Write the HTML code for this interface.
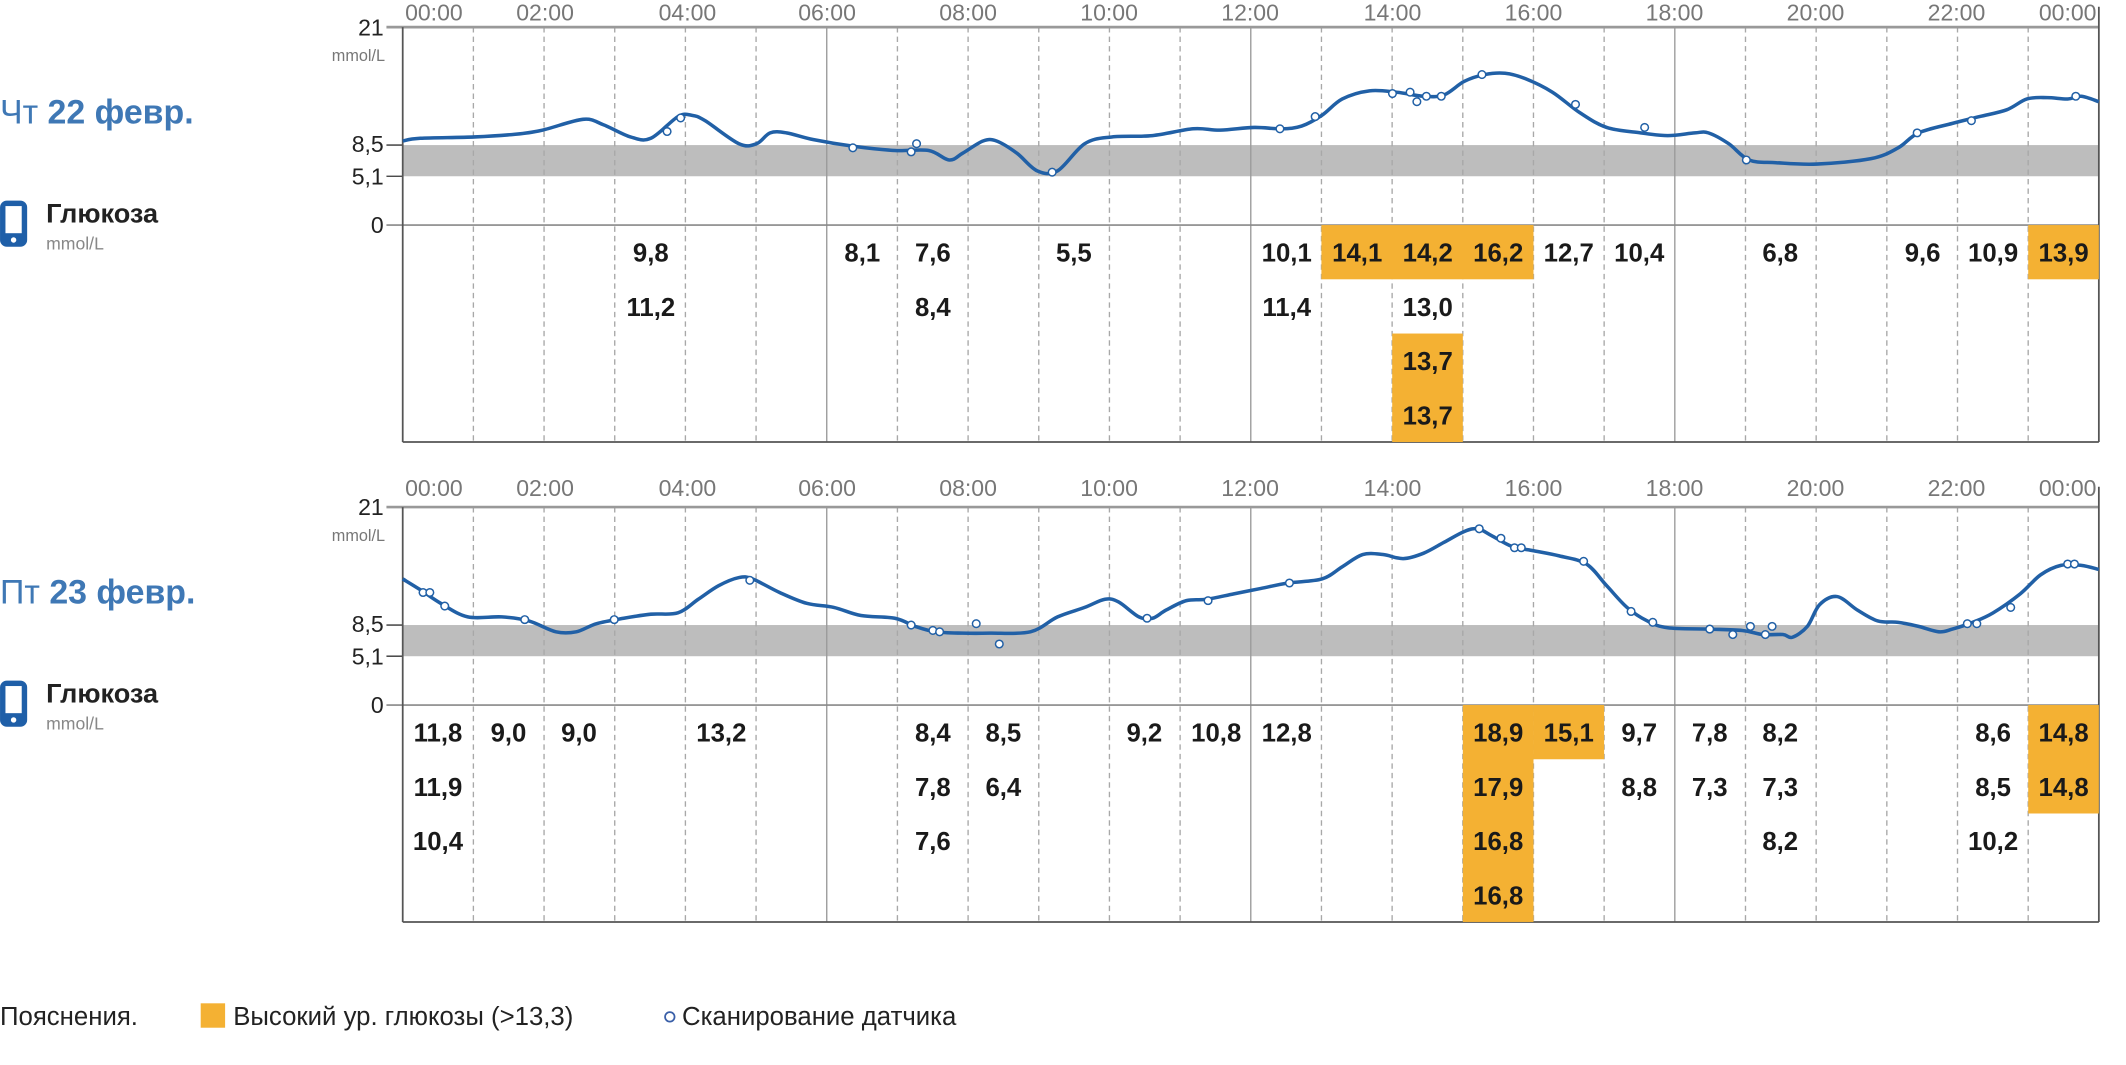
<!DOCTYPE html>
<html><head><meta charset="utf-8"><style>
html,body{margin:0;padding:0;background:#fff;}
svg{display:block;font-family:"Liberation Sans","DejaVu Sans",sans-serif;}
.v{font-size:19px;font-weight:bold;fill:#1a1a1a;text-anchor:middle;}
.h{font-size:17px;fill:#777;text-anchor:middle;}
.ax{font-size:17px;fill:#222;text-anchor:end;}
.u{font-size:12px;fill:#777;text-anchor:end;}
.day{font-size:25px;fill:#3f78b5;}
.g{font-size:20px;font-weight:bold;fill:#222;}
.gu{font-size:13px;fill:#888;}
</style></head><body>
<svg id="s" width="2126" height="1065" viewBox="0 0 1568 785.5">
<g id="p1">
<text class="h" x="320" y="15">00:00</text><text class="h" x="402" y="15">02:00</text><text class="h" x="507" y="15">04:00</text><text class="h" x="610" y="15">06:00</text><text class="h" x="714" y="15">08:00</text><text class="h" x="818" y="15">10:00</text><text class="h" x="922" y="15">12:00</text><text class="h" x="1027" y="15">14:00</text><text class="h" x="1131" y="15">16:00</text><text class="h" x="1235" y="15">18:00</text><text class="h" x="1339" y="15">20:00</text><text class="h" x="1443" y="15">22:00</text><text class="h" x="1525" y="15">00:00</text>
<text class="ax" x="283" y="26">21</text><text class="u" x="284" y="45">mmol/L</text>
<text class="ax" x="283" y="112">8,5</text><text class="ax" x="283" y="136">5,1</text><text class="ax" x="283" y="172">0</text>
<text class="day" x="0" y="91">Чт <tspan font-weight="bold">22 февр.</tspan></text>
<rect x="0" y="148" width="20" height="34" rx="5" fill="#1f5fa8"/><rect x="4" y="152" width="12" height="20" fill="#fff"/><circle cx="10" cy="177" r="2" fill="#fff"/>
<text class="g" x="34" y="164">Глюкоза</text><text class="gu" x="34" y="184">mmol/L</text>
<g id="t1"></g>
<rect x="974.6" y="166" width="156.4" height="40" fill="#f4b133"/><rect x="1495.9" y="166" width="52.1" height="40" fill="#f4b133"/><rect x="1026.8" y="246" width="52.1" height="80" fill="#f4b133"/>
<text class="v" x="480" y="193">9,8</text><text class="v" x="636" y="193">8,1</text><text class="v" x="688" y="193">7,6</text><text class="v" x="792" y="193">5,5</text><text class="v" x="949" y="193">10,1</text><text class="v" x="1001" y="193">14,1</text><text class="v" x="1053" y="193">14,2</text><text class="v" x="1105" y="193">16,2</text><text class="v" x="1157" y="193">12,7</text><text class="v" x="1209" y="193">10,4</text><text class="v" x="1313" y="193">6,8</text><text class="v" x="1418" y="193">9,6</text><text class="v" x="1470" y="193">10,9</text><text class="v" x="1522" y="193">13,9</text>
<text class="v" x="480" y="233">11,2</text><text class="v" x="688" y="233">8,4</text><text class="v" x="949" y="233">11,4</text><text class="v" x="1053" y="233">13,0</text>
<text class="v" x="1053" y="273">13,7</text><text class="v" x="1053" y="313">13,7</text>
</g>
<g id="p2" transform="translate(0,354)">
<text class="h" x="320" y="12">00:00</text><text class="h" x="402" y="12">02:00</text><text class="h" x="507" y="12">04:00</text><text class="h" x="610" y="12">06:00</text><text class="h" x="714" y="12">08:00</text><text class="h" x="818" y="12">10:00</text><text class="h" x="922" y="12">12:00</text><text class="h" x="1027" y="12">14:00</text><text class="h" x="1131" y="12">16:00</text><text class="h" x="1235" y="12">18:00</text><text class="h" x="1339" y="12">20:00</text><text class="h" x="1443" y="12">22:00</text><text class="h" x="1525" y="12">00:00</text>
<text class="ax" x="283" y="26">21</text><text class="u" x="284" y="45">mmol/L</text>
<text class="ax" x="283" y="112">8,5</text><text class="ax" x="283" y="136">5,1</text><text class="ax" x="283" y="172">0</text>
<text class="day" x="0" y="91">Пт <tspan font-weight="bold">23 февр.</tspan></text>
<rect x="0" y="148" width="20" height="34" rx="5" fill="#1f5fa8"/><rect x="4" y="152" width="12" height="20" fill="#fff"/><circle cx="10" cy="177" r="2" fill="#fff"/>
<text class="g" x="34" y="164">Глюкоза</text><text class="gu" x="34" y="184">mmol/L</text>
<g id="t2"></g>
<rect x="1078.9" y="166" width="52.1" height="160" fill="#f4b133"/><rect x="1131" y="166" width="52.1" height="40" fill="#f4b133"/><rect x="1495.9" y="166" width="52.1" height="80" fill="#f4b133"/>
<text class="v" x="323" y="193">11,8</text><text class="v" x="375" y="193">9,0</text><text class="v" x="427" y="193">9,0</text><text class="v" x="532" y="193">13,2</text><text class="v" x="688" y="193">8,4</text><text class="v" x="740" y="193">8,5</text><text class="v" x="844" y="193">9,2</text><text class="v" x="897" y="193">10,8</text><text class="v" x="949" y="193">12,8</text><text class="v" x="1105" y="193">18,9</text><text class="v" x="1157" y="193">15,1</text><text class="v" x="1209" y="193">9,7</text><text class="v" x="1261" y="193">7,8</text><text class="v" x="1313" y="193">8,2</text><text class="v" x="1470" y="193">8,6</text><text class="v" x="1522" y="193">14,8</text>
<text class="v" x="323" y="233">11,9</text><text class="v" x="688" y="233">7,8</text><text class="v" x="740" y="233">6,4</text><text class="v" x="1105" y="233">17,9</text><text class="v" x="1209" y="233">8,8</text><text class="v" x="1261" y="233">7,3</text><text class="v" x="1313" y="233">7,3</text><text class="v" x="1470" y="233">8,5</text><text class="v" x="1522" y="233">14,8</text>
<text class="v" x="323" y="273">10,4</text><text class="v" x="688" y="273">7,6</text><text class="v" x="1105" y="273">16,8</text><text class="v" x="1313" y="273">8,2</text><text class="v" x="1470" y="273">10,2</text>
<text class="v" x="1105" y="313">16,8</text>
</g>
<text x="0" y="756" style="font-size:19px;fill:#222">Пояснения.</text>
<rect x="148" y="740" width="18" height="18" fill="#f4b133"/>
<text x="172" y="756" style="font-size:19px;fill:#222">Высокий ур. глюкозы (&gt;13,3)</text>
<circle cx="494" cy="750" r="3.5" fill="#fff" stroke="#3a5fa8" stroke-width="1.3"/>
<text x="503" y="756" style="font-size:19px;fill:#222">Сканирование датчика</text>
</svg>
<script>
var NS="http://www.w3.org/2000/svg";
function el(p,n,a){var e=document.createElementNS(NS,n);for(var k in a)e.setAttribute(k,a[k]);p.appendChild(e);return e;}
var c1=[[297,104],[310,102],[350,101],[380,99],[400,96],[430,88],[445,92],[465,101],[480,102],[500,86],[510,85],[520,89],[545,106],[558,106],[568,98],[580,98],[600,103],[630,108],[660,111],[685,111],[700,118],[710,113],[725,104],[735,104],[750,113],[765,126],[780,126],[800,106],[820,101],[850,100],[880,95],[900,96],[925,94],[945,95],[960,93],[975,85],[990,73],[1010,67],[1030,68],[1050,71],[1065,70],[1080,60],[1095,55],[1110,54],[1125,58],[1145,68],[1165,83],[1185,94],[1210,98],[1230,100],[1250,98],[1260,98],[1275,106],[1290,118],[1310,120],[1340,121],[1380,117],[1400,109],[1415,98],[1440,91],[1460,86],[1480,81],[1495,73],[1510,72],[1525,73],[1535,71],[1548,75]];
var s1=[[492,97],[502,87],[629,109],[672,112],[676,106],[776,127],[944,95],[970,86],[1027,69],[1040,68],[1045,75],[1052,71],[1063,71],[1093,55],[1162,77],[1213,94],[1288,118],[1414,98],[1454,89],[1531,71]];
var c2=[[297,427],[310,435],[325,445],[345,455],[370,455],[390,458],[410,466],[425,466],[440,460],[460,456],[480,453],[500,452],[515,442],[530,432],[545,426],[555,427],[575,437],[595,445],[615,448],[635,454],[660,456],[675,462],[690,466],[710,467],[730,467],[760,466],[780,455],[800,448],[815,442],[825,444],[840,455],[850,456],[860,450],[875,443],[890,442],[910,438],[930,434],[950,430],[975,427],[990,418],[1005,409],[1020,409],[1035,412],[1050,408],[1065,400],[1080,392],[1090,390],[1100,395],[1115,403],[1130,406],[1150,410],[1170,416],[1185,432],[1200,448],[1215,458],[1230,463],[1260,464],[1285,465],[1300,468],[1315,468],[1322,470],[1333,462],[1342,446],[1355,440],[1370,450],[1385,458],[1400,459],[1415,462],[1430,466],[1440,464],[1455,459],[1470,452],[1490,438],[1505,424],[1520,417],[1535,417],[1548,420]].map(function(p){return[p[0],p[1]-354]});
var s2=[[312,437],[317,437],[328,447],[387,457],[453,457],[553,428],[672,461],[688,465],[693,466],[720,460],[737,475],[846,456],[891,443],[951,430],[1091,390],[1107,397],[1117,404],[1122,404],[1168,414],[1203,451],[1219,459],[1261,464],[1278,468],[1291,462],[1302,468],[1307,462],[1451,460],[1458,460],[1483,448],[1525,416],[1530,416]].map(function(p){return[p[0],p[1]-354]});
function smooth(c){var d="M"+c[0][0]+","+c[0][1];for(var i=0;i<c.length-1;i++){var p0=c[Math.max(0,i-1)],p1=c[i],p2=c[i+1],p3=c[Math.min(c.length-1,i+2)];var t=6;d+=" C"+(p1[0]+(p2[0]-p0[0])/t)+","+(p1[1]+(p2[1]-p0[1])/t)+" "+(p2[0]-(p3[0]-p1[0])/t)+","+(p2[1]-(p3[1]-p1[1])/t)+" "+p2[0]+","+p2[1];}return d;}
function build(gid,c,s){
 var g=document.getElementById(gid);
 var L=297,R=1548,cw=(R-L)/24;
 el(g,"rect",{x:L,y:107,width:R-L,height:23,fill:"#bdbdbd"});
 for(var k=1;k<24;k++){var x=L+cw*k;var a={x1:x,y1:20,x2:x,y2:326,stroke:k%6==0?"#9a9a9a":"#a8a8a8","stroke-width":1};if(k%6)a["stroke-dasharray"]="4,3";el(g,"line",a);}
 el(g,"line",{x1:285,y1:20,x2:R,y2:20,stroke:"#999","stroke-width":2});
 el(g,"line",{x1:285,y1:166,x2:R,y2:166,stroke:"#888","stroke-width":1.2});
 el(g,"line",{x1:285,y1:107,x2:L,y2:107,stroke:"#333","stroke-width":1});
 el(g,"line",{x1:285,y1:130,x2:L,y2:130,stroke:"#333","stroke-width":1});
 el(g,"line",{x1:L,y1:20,x2:L,y2:326,stroke:"#555","stroke-width":1.3});
 el(g,"line",{x1:R,y1:5,x2:R,y2:326,stroke:"#555","stroke-width":1.3});
 el(g,"line",{x1:L,y1:326,x2:R,y2:326,stroke:"#555","stroke-width":1.3});
 el(g,"path",{d:smooth(c),fill:"none",stroke:"#2160a6","stroke-width":2.6,"stroke-linejoin":"round"});
 s.forEach(function(p){el(g,"circle",{cx:p[0],cy:p[1],r:2.8,fill:"#fff",stroke:"#2160a6","stroke-width":1.1});});
}
build("t1",c1,s1);build("t2",c2,s2);
</script>
</body></html>
